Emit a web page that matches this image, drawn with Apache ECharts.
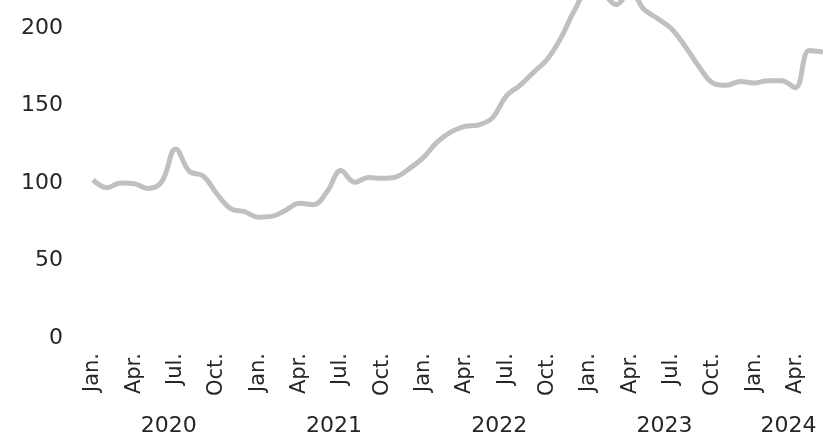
<!DOCTYPE html>
<html>
<head>
<meta charset="utf-8">
<script src="https://cdn.jsdelivr.net/npm/echarts@6/dist/echarts.min.js"></script>
<style>
  html, body { margin: 0; padding: 0; background: #fff; }
  #chart { width: 823px; height: 437px; }
</style>
</head>
<body>
<div id="chart"></div>
<script>
// 月份和年份
const years = ['2020', '2021', '2022', '2023', '2024']
const monthNames = ['Jan.', 'Feb.', 'Mar.', 'Apr.', 'May', 'Jun.', 'Jul.', 'Aug.', 'Sep.', 'Oct.', 'Nov.', 'Dec.']
// Jan 2020 - Jun 2024
const values = [
  100, 95, 98, 97.5, 94.5, 99, 120, 105.5, 102.5, 91, 81.5, 79.5,
  76, 76.5, 80.5, 85, 84, 92.5, 106, 98.5, 101.5, 101, 102, 107.5,
  114.5, 124.5, 131, 134.5, 135.5, 140, 154, 161, 169.5, 178, 192, 210,
  222, 220, 213, 222, 210, 204, 197.5, 186, 173, 162.5, 161, 163.5,
  162.5, 164, 164, 159.5, 183.5, 182.5
]
const yTicks = [0, 50, 100, 150, 200]
const yMax = 216 // 图的上边缘

const categories = values.map((v, i) => monthNames[i % 12])

// 年份标签放在每年月份的中间 (半个月一格)
const yearAxisData = new Array(values.length * 2 - 1).fill('')
years.forEach((y, k) => {
  const first = k * 12
  const last = Math.min(first + 11, values.length - 1)
  yearAxisData[first + last] = y
})

const labelFont = 'DejaVu Sans'
const textColor = '#262626'

const chart = echarts.init(document.getElementById('chart'))
chart.setOption({
  animation: false,
  grid: { left: 93, right: -2, top: 0, bottom: 101, containLabel: false },
  xAxis: [
    {
      type: 'category',
      data: categories,
      boundaryGap: false,
      axisLine: { show: false },
      axisTick: { show: false },
      splitLine: { show: false },
      axisLabel: {
        interval: 2,
        rotate: 90,
        margin: 18,
        fontFamily: labelFont,
        fontSize: 21,
        color: textColor
      }
    },
    {
      type: 'category',
      data: yearAxisData,
      position: 'bottom',
      boundaryGap: false,
      axisLine: { show: false },
      axisTick: { show: false },
      splitLine: { show: false },
      axisLabel: {
        interval: (index, value) => value !== '',
        margin: 80,
        fontFamily: labelFont,
        fontSize: 22,
        color: textColor
      }
    }
  ],
  yAxis: {
    type: 'value',
    min: 0,
    max: yMax,
    interval: 50,
    axisLine: { show: false },
    axisTick: { show: false },
    splitLine: { show: false },
    axisLabel: {
      margin: 30,
      fontFamily: labelFont,
      fontSize: 22,
      color: textColor,
      // 文字稍微往下移一点
      formatter: (val) => (yTicks.includes(val) ? '{v|' + val + '}' : ''),
      rich: {
        v: {
          fontFamily: labelFont,
          fontSize: 22,
          color: textColor,
          padding: [6, 0, 0, 0]
        }
      }
    }
  },
  series: [
    {
      type: 'line',
      xAxisIndex: 0,
      data: values,
      smooth: 0.4,
      symbol: 'none',
      lineStyle: { color: '#c0c0c0', width: 5 }
    }
  ]
})
</script>
</body>
</html>
